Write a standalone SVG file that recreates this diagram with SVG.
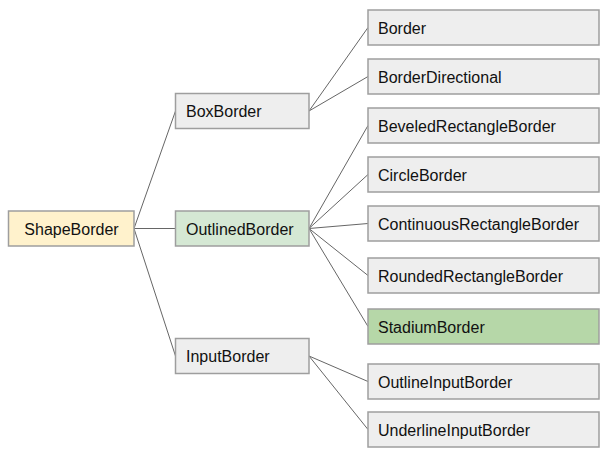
<svg xmlns="http://www.w3.org/2000/svg" width="608" height="456" viewBox="0 0 608 456">
<style>
.n rect{stroke:#9e9e9e;stroke-width:1.5}
.g{fill:#eeeeee}
text{font-family:"Liberation Sans",Arial,sans-serif;font-size:16px;fill:#111}
.c{stroke:#666;stroke-width:1;fill:none}
</style>
<rect x="0" y="0" width="608" height="456" style="fill:#fff;stroke:none"/>
<g id="connectors" class="c">
<path d="M134 228.5L175.5 111"/>
<path d="M134 228.5L175.5 228.5"/>
<path d="M134 228.5L175.5 356"/>
<path d="M309 111L368 27.5"/>
<path d="M309 111L368 76.5"/>
<path d="M309 228.5L368 125.5"/>
<path d="M309 228.5L368 174.5"/>
<path d="M309 228.5L368 223.5"/>
<path d="M309 228.5L368 275.5"/>
<path d="M309 228.5L368 326.5"/>
<path d="M309 356L368 381.5"/>
<path d="M309 356L368 429.5"/>
</g>
<g id="ShapeBorder" class="n"><rect x="8.5" y="211" width="125.5" height="35" fill="#fff2cc"/><text x="71.5" y="234.5" text-anchor="middle">ShapeBorder</text></g>
<g id="BoxBorder" class="n"><rect class="g" x="175.5" y="93.5" width="133.5" height="35"/><text x="186" y="117">BoxBorder</text></g>
<g id="OutlinedBorder" class="n"><rect x="175.5" y="211" width="133.5" height="35" fill="#d5e8d4"/><text x="186" y="234.5">OutlinedBorder</text></g>
<g id="InputBorder" class="n"><rect class="g" x="175.5" y="338.5" width="133.5" height="35"/><text x="186" y="362">InputBorder</text></g>
<g id="Border" class="n"><rect class="g" x="368" y="10" width="231" height="35"/><text x="378" y="33.5">Border</text></g>
<g id="BorderDirectional" class="n"><rect class="g" x="368" y="59" width="231" height="35"/><text x="378" y="82.5">BorderDirectional</text></g>
<g id="BeveledRectangleBorder" class="n"><rect class="g" x="368" y="108" width="231" height="35"/><text x="378" y="131.5">BeveledRectangleBorder</text></g>
<g id="CircleBorder" class="n"><rect class="g" x="368" y="157" width="231" height="35"/><text x="378" y="180.5">CircleBorder</text></g>
<g id="ContinuousRectangleBorder" class="n"><rect class="g" x="368" y="206" width="231" height="35"/><text x="378" y="229.5">ContinuousRectangleBorder</text></g>
<g id="RoundedRectangleBorder" class="n"><rect class="g" x="368" y="258" width="231" height="35"/><text x="378" y="281.5">RoundedRectangleBorder</text></g>
<g id="StadiumBorder" class="n"><rect x="368" y="309" width="231" height="35" fill="#b6d7a8"/><text x="378" y="332.5">StadiumBorder</text></g>
<g id="OutlineInputBorder" class="n"><rect class="g" x="368" y="364" width="231" height="35"/><text x="378" y="387.5">OutlineInputBorder</text></g>
<g id="UnderlineInputBorder" class="n"><rect class="g" x="368" y="412" width="231" height="35"/><text x="378" y="435.5">UnderlineInputBorder</text></g>
</svg>
